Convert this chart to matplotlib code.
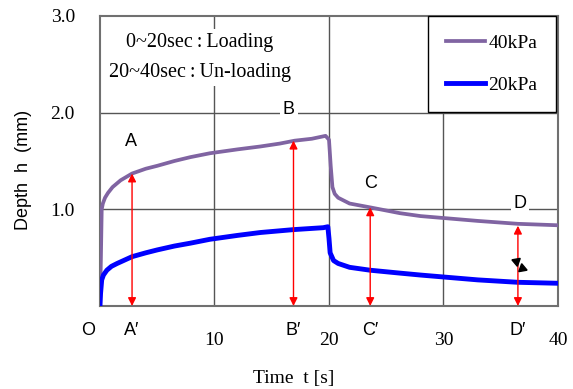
import matplotlib.pyplot as plt
from matplotlib.lines import Line2D

# 40kPa curve (time [s], depth [mm])
t_40 = [0, 0.08, 0.15, 0.25, 0.44, 0.7, 1.1, 1.8, 2.8, 4, 5, 6.5, 7.9, 9.6, 12, 14, 15.7, 17, 18.5, 19.7,
        20.0, 20.15, 20.3, 20.5, 20.8, 21.3, 21.8, 23.6, 26.2, 28, 30, 33, 36.5, 40]
h_40 = [0, 0.5, 1.0, 1.06, 1.12, 1.17, 1.23, 1.30, 1.37, 1.42, 1.45, 1.50, 1.54, 1.58, 1.62, 1.65, 1.68, 1.71, 1.73, 1.76,
        1.72, 1.45, 1.23, 1.16, 1.12, 1.09, 1.06, 1.02, 0.96, 0.93, 0.91, 0.88, 0.85, 0.835]

# 20kPa curve
t_20 = [0, 0.05, 0.15, 0.3, 0.6, 1.0, 1.5, 2.8, 4, 5, 6.5, 7.9, 9.6, 12, 14, 16.9, 19.5, 19.9,
        20.0, 20.1, 20.4, 20.8, 21.3, 21.8, 23.6, 26.2, 28, 30, 33, 36.5, 40]
h_20 = [0, 0.13, 0.27, 0.32, 0.37, 0.41, 0.44, 0.51, 0.55, 0.58, 0.62, 0.65, 0.69, 0.73, 0.76, 0.79, 0.81, 0.82,
        0.70, 0.55, 0.47, 0.44, 0.42, 0.40, 0.37, 0.34, 0.32, 0.30, 0.27, 0.245, 0.235]

# measuring points
pt_names = ["A", "B", "C", "D"]
pt_t = [2.8, 16.9, 23.6, 36.5]
pt_h = [1.37, 1.71, 1.02, 0.83]

fig = plt.figure(figsize=(5.73, 3.89), dpi=100)
ax = fig.add_axes([0.1745, 0.2134, 0.7993, 0.7455])

serif = "Liberation Serif"
sans = "Liberation Sans"

ax.set_xlim(0, 40)
ax.set_ylim(0, 3.0)
for x in [10, 20, 30]:
    ax.axvline(x, color="#555555", lw=1, zorder=1)
for y in [1.0, 2.0]:
    ax.axhline(y, color="#555555", lw=1, zorder=1)

ax.plot(t_40, h_40, color="#8064A2", lw=2.7, zorder=3, solid_joinstyle="round")
ax.plot(t_20, h_20, color="#0000FF", lw=3.5, zorder=3, solid_joinstyle="round")

for name, t, h in zip(pt_names, pt_t, pt_h):
    ax.annotate("", xy=(t, h), xytext=(t, 0),
                arrowprops=dict(arrowstyle="<|-|>", color="red", lw=1,
                                mutation_scale=12, shrinkA=0, shrinkB=0), zorder=4)

bb = dict(facecolor="white", edgecolor="none", pad=2)
ax.text(2.7, 1.70, "A", fontsize=13, family=sans, ha="center", va="center", bbox=bb, zorder=5)
ax.text(16.5, 2.03, "B", fontsize=13, family=sans, ha="center", va="center", bbox=bb, zorder=5)
ax.text(23.6, 1.27, "C", fontsize=13, family=sans, ha="center", va="center", bbox=bb, zorder=5)
ax.text(36.7, 1.06, "D", fontsize=13, family=sans, ha="center", va="center", bbox=bb, zorder=5)

# small black marker near D
ax.plot([36.3], [0.47], marker=(3, 0, 70), color="black", ms=7, zorder=5)
ax.plot([36.85], [0.39], marker=(3, 0, -110), color="black", ms=7, zorder=5)

ax.text(8.7, 2.57, "0~20sec\u2009:\u2009Loading\n20~40sec\u2009:\u2009Un-loading", fontsize=14.5,
        family=[serif, "DejaVu Serif"], ha="center", va="center", linespacing=1.75,
        bbox=dict(facecolor="white", edgecolor="none", pad=3), zorder=5)

for s in ax.spines.values():
    s.set_color("#707070")
    s.set_linewidth(1.5)

ax.set_xticks([10, 20, 30, 40])
ax.set_xticklabels(["10", "20", "30", "40"], family=serif, fontsize=14)
ax.set_yticks([1.0, 2.0, 3.0])
ax.set_yticklabels(["1.0", "2.0", "3.0"], family=serif, fontsize=14)
ax.tick_params(length=0)
ax.tick_params(axis="y", pad=18)
ax.tick_params(axis="x", pad=19)

# labels under axis
for name, t in zip(pt_names, pt_t):
    ax.text(t, -0.25, name + "\u2032", fontsize=13, family=sans, ha="center", va="center")
ax.text(-1.0, -0.25, "O", fontsize=13, family=sans, ha="center", va="center")

ax.set_ylabel("Depth  h  (mm)", family=sans, fontsize=13)
ax.yaxis.set_label_coords(-0.148, 0.47)
fig.text(0.512, 0.028, "Time  t [s]", family=serif, fontsize=14, ha="center", va="center")

handles = [Line2D([], [], color="#8064A2", lw=2.7), Line2D([], [], color="#0000FF", lw=3.5)]
leg = ax.legend(handles, ["40kPa", "20kPa"], loc="upper right", bbox_to_anchor=(0.995, 1.0),
                prop=dict(family=serif, size=14), handlelength=2.0, handletextpad=0.15,
                borderpad=0.95, labelspacing=1.25, borderaxespad=0, fancybox=False,
                framealpha=1, edgecolor="black")
leg.get_frame().set_linewidth(1.0)
leg.set_zorder(6)

fig.savefig("out.png", dpi=100)
